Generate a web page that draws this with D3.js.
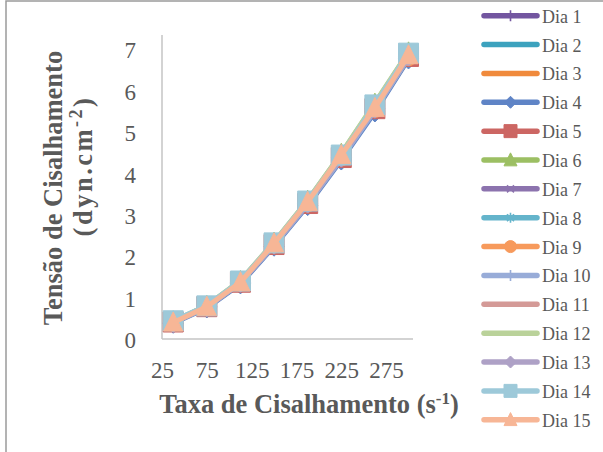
<!DOCTYPE html>
<html>
<head>
<meta charset="utf-8">
<script src="https://cdn.jsdelivr.net/npm/d3@7"></script>
<style>
  body { margin: 0; background: #fff; }
  svg { display: block; }
</style>
</head>
<body>
<svg id="chart" width="603" height="452"></svg>
<script>
// Shear rate (s^-1) at each reading
const shearRates = [37.5, 75, 112.5, 150, 187.5, 225, 262.5, 300];
const xTickValues = [25, 75, 125, 175, 225, 275];
const yTickValues = [0, 1, 2, 3, 4, 5, 6, 7];

// Shear stress (dyn.cm^-2) per day
const dia1  = [0.40, 0.77, 1.36, 2.27, 3.26, 4.36, 5.54, 6.80];
const dia2  = [0.41, 0.78, 1.37, 2.29, 3.28, 4.39, 5.57, 6.83];
const dia3  = [0.40, 0.77, 1.35, 2.26, 3.25, 4.36, 5.52, 6.78];
const dia4  = [0.38, 0.75, 1.33, 2.24, 3.22, 4.32, 5.48, 6.76];
const dia5  = [0.41, 0.78, 1.37, 2.28, 3.27, 4.38, 5.56, 6.82];
const dia6  = [0.43, 0.80, 1.40, 2.33, 3.34, 4.47, 5.68, 6.92];
const dia7  = [0.40, 0.77, 1.36, 2.27, 3.26, 4.37, 5.55, 6.81];
const dia8  = [0.41, 0.78, 1.38, 2.29, 3.29, 4.40, 5.58, 6.84];
const dia9  = [0.40, 0.77, 1.36, 2.28, 3.27, 4.38, 5.55, 6.80];
const dia10 = [0.39, 0.76, 1.35, 2.26, 3.25, 4.35, 5.52, 6.79];
const dia11 = [0.41, 0.79, 1.38, 2.30, 3.30, 4.41, 5.60, 6.85];
const dia12 = [0.43, 0.81, 1.41, 2.34, 3.35, 4.48, 5.70, 6.93];
const dia13 = [0.40, 0.78, 1.37, 2.29, 3.28, 4.39, 5.57, 6.83];
const dia14 = [0.44, 0.80, 1.40, 2.32, 3.33, 4.44, 5.65, 6.90];
const dia15 = [0.40, 0.78, 1.37, 2.31, 3.31, 4.44, 5.58, 6.85];

const dayNames = ["Dia 1", "Dia 2", "Dia 3", "Dia 4", "Dia 5", "Dia 6", "Dia 7", "Dia 8",
                  "Dia 9", "Dia 10", "Dia 11", "Dia 12", "Dia 13", "Dia 14", "Dia 15"];
const dayColors = ["#7356A0", "#3CA2BE", "#F08A3C", "#5F84C6", "#CC6663", "#9CBF63", "#8C73AE", "#64B4CB",
                   "#F79A5C", "#98ACD8", "#D49A97", "#BAD29A", "#AEA1C6", "#9DC9D9", "#F7B696"];
const dayMarkers = ["plus", "none", "none", "diamond", "square", "triangle", "x", "star",
                    "circle", "plus", "none", "none", "diamond", "square", "triangle"];
const dayValues = [dia1, dia2, dia3, dia4, dia5, dia6, dia7, dia8, dia9, dia10, dia11, dia12, dia13, dia14, dia15];

const series = dayNames.map((name, i) => ({
  name, color: dayColors[i], marker: dayMarkers[i],
  points: shearRates.map((x, j) => ({ x, y: dayValues[i][j] }))
}));

const svg = d3.select("#chart");
const textColor = "#595959";
const serif = "'Liberation Serif', 'Times New Roman', serif";

// outer frame
svg.append("rect").attr("x", 6).attr("y", 1).attr("width", 700).attr("height", 600)
  .attr("fill", "none").attr("stroke", "#9a9a9a").attr("stroke-width", 1.5);

const x = d3.scaleLinear().domain([25, 305]).range([162, 413]);
const y = d3.scaleLinear().domain([0, 7]).range([339, 49]);
const yTop = 35;

// axes
const xAxis = d3.axisBottom(x).tickValues(xTickValues).tickSize(0).tickPadding(0).tickFormat(d3.format("d"));
const gx = svg.append("g").attr("transform", `translate(0,${y(0)})`).call(xAxis);
gx.select(".domain").attr("d", `M${x(25)},0H${x(305)}`).attr("stroke", "#c4c4c4").attr("stroke-width", 1.5);
gx.selectAll("text").attr("y", 39).attr("dy", null)
  .attr("font-family", serif).attr("font-size", 23).attr("fill", textColor);

const yAxis = d3.axisLeft(y).tickValues(yTickValues).tickSize(0).tickPadding(0).tickFormat(d3.format("d"));
const gy = svg.append("g").attr("transform", `translate(${x(25)},0)`).call(yAxis);
gy.select(".domain").attr("d", `M0,${yTop}V${y(0)}`).attr("stroke", "#c4c4c4").attr("stroke-width", 1.5);
gy.selectAll("text").attr("x", -26).attr("dy", "0.38em")
  .attr("font-family", serif).attr("font-size", 23).attr("fill", textColor);
svg.selectAll(".tick line").remove();

// marker shapes centred on 0,0
function markerPath(type, s) {
  const h = s / 2;
  switch (type) {
    case "square": return `M${-h},${-h}H${h}V${h}H${-h}Z`;
    case "diamond": return `M0,${-h}L${h},0L0,${h}L${-h},0Z`;
    case "triangle": return `M0,${-h * 1.1}L${h},${h * 0.9}L${-h},${h * 0.9}Z`;
    case "circle": return d3.arc()({ innerRadius: 0, outerRadius: h, startAngle: 0, endAngle: 2 * Math.PI });
    case "plus": return `M0,${-h}V${h}M${-h},0H${h}`;
    case "x": return `M${-h * 0.7},${-h * 0.7}L${h * 0.7},${h * 0.7}M${-h * 0.7},${h * 0.7}L${h * 0.7},${-h * 0.7}`;
    case "star": return `M${-h * 0.7},${-h * 0.7}L${h * 0.7},${h * 0.7}M${-h * 0.7},${h * 0.7}L${h * 0.7},${-h * 0.7}M0,${-h}V${h}`;
    default: return null;
  }
}
const strokedMarkers = new Set(["plus", "x", "star"]);
const plotSize = { square: 20, diamond: 20, triangle: 19, circle: 17, plus: 14, x: 13, star: 13 };
const legendSize = { square: 13, diamond: 12, triangle: 13, circle: 12, plus: 11, x: 10, star: 10 };

function drawMarker(g, type, color, s) {
  const d = markerPath(type, s);
  if (!d) return;
  if (strokedMarkers.has(type)) {
    g.append("path").attr("d", d).attr("fill", "none").attr("stroke", color).attr("stroke-width", 1.6);
  } else {
    g.append("path").attr("d", d).attr("fill", color).attr("stroke", color).attr("stroke-width", 1);
  }
}

// series: line then markers, one day after another
const line = d3.line().x(d => x(d.x)).y(d => y(d.y));
const plot = svg.append("g");
series.forEach(s => {
  const g = plot.append("g");
  g.append("path").datum(s.points).attr("d", line)
    .attr("fill", "none").attr("stroke", s.color).attr("stroke-width", 5)
    .attr("stroke-linecap", "round").attr("stroke-linejoin", "round");
  s.points.forEach(p => {
    const m = g.append("g").attr("transform", `translate(${x(p.x)},${y(p.y)})`);
    drawMarker(m, s.marker, s.color, plotSize[s.marker]);
  });
});

// legend
const legend = svg.append("g");
series.forEach((s, i) => {
  const ly = 15.7 + i * 28.86;
  const g = legend.append("g").attr("transform", `translate(0,${ly})`);
  g.append("line").attr("x1", 484).attr("x2", 537).attr("y1", 0).attr("y2", 0)
    .attr("stroke", s.color).attr("stroke-width", 5.5).attr("stroke-linecap", "round");
  const m = g.append("g").attr("transform", "translate(510.5,0)");
  drawMarker(m, s.marker, s.color, legendSize[s.marker]);
  g.append("text").attr("x", 542).attr("y", 7).text(s.name)
    .attr("font-family", serif).attr("font-size", 18).attr("fill", textColor);
});

// axis titles
const xt = svg.append("text").attr("x", 309).attr("y", 413).attr("text-anchor", "middle")
  .attr("font-family", serif).attr("font-size", 26.5).attr("font-weight", "bold").attr("fill", textColor);
xt.append("tspan").text("Taxa de Cisalhamento (s");
xt.append("tspan").attr("baseline-shift", "super").attr("font-size", 17).text("-1");
xt.append("tspan").text(")");

svg.append("text").attr("transform", "translate(53,188) rotate(-90)")
  .attr("text-anchor", "middle").attr("dy", "0.35em")
  .attr("font-family", serif).attr("font-size", 26.5).attr("font-weight", "bold").attr("fill", textColor)
  .text("Tensão de Cisalhamento");
const yt2 = svg.append("text").attr("transform", "translate(83,166) rotate(-90)")
  .attr("text-anchor", "middle").attr("dy", "0.35em").attr("letter-spacing", 2.5)
  .attr("font-family", serif).attr("font-size", 26.5).attr("font-weight", "bold").attr("fill", textColor);
yt2.append("tspan").text("(dyn.cm");
yt2.append("tspan").attr("baseline-shift", "super").attr("font-size", 18).text("-2");
yt2.append("tspan").text(")");
</script>
</body>
</html>
